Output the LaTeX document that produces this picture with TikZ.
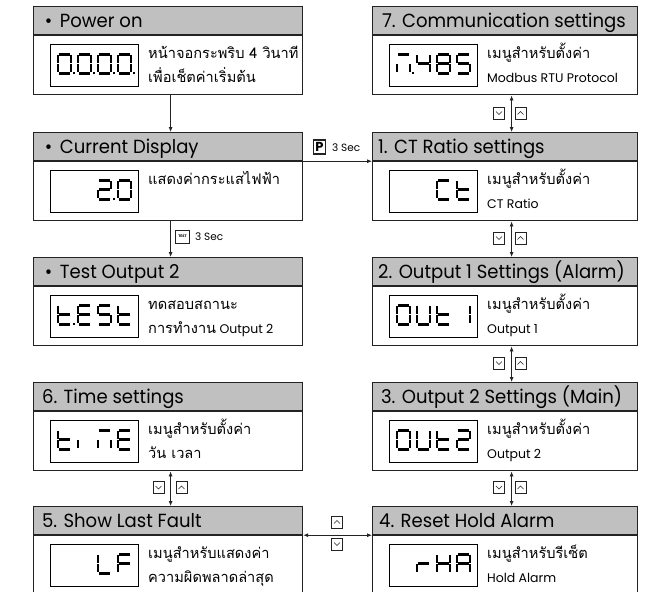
\documentclass[tikz,border=0pt]{standalone}
\usepackage{fontspec}
\setmainfont{Poppins}
\newfontfamily\thaifont[Script=Thai]{Loma}
\usetikzlibrary{arrows.meta,calc}

\definecolor{hdrgray}{RGB}{192,192,192}
\definecolor{edge}{RGB}{35,35,35}

% Thai text in the body of a panel
\newcommand\thaitxt[1]{{\thaifont\fontsize{14.6}{18}\selectfont #1}}

% one panel: grey title bar, white body and an LCD window
% #1 id, #2 x, #3 y (top left), #4 width style, #5 title
\newcommand\panel[5]{%
  \node[hdr,#4,anchor=north west] (h#1) at (#2,#3) {};
  \node[hdrtext,anchor=base west] (ht#1) at ($(h#1.south west)+(6,-7.5)$) {\scalebox{0.95}[1]{#5}};
  \node[bodybox,#4,anchor=north] (b#1) at (h#1.south) {};
  \node[lcdbox,anchor=north west] (d#1) at ($(b#1.north west)+(17,9)$) {};
}
% two text lines beside the LCD window
\newcommand\twolines[3]{%
  \node[bodytext,anchor=base west] (la#1) at ($(b#1.north west)+(115,23)$) {#2};
  \node[bodytext,anchor=base west] (lb#1) at ($(b#1.north west)+(115,47)$) {#3};
}
% seven-segment character: #1 LCD node, #2 cell index, #3 segments
\newcommand\lcddigit[3]{%
  \foreach \sg in {#3}{\draw[segline, shift={(#1.north west)}, shift={(8+20*#2,10)}, seg \sg];}%
}

\begin{document}
\begin{tikzpicture}[x=1pt,y=-1pt,
  hdr/.style={draw=edge, fill=hdrgray, line width=1.2pt, minimum height=28pt, inner sep=0},
  bodybox/.style={draw=edge, line width=1.2pt, minimum height=59pt, inner sep=0},
  lw/.style={minimum width=269pt},
  rw/.style={minimum width=265pt},
  hdrtext/.style={inner sep=0, font=\fontsize{19}{22}\selectfont},
  bodytext/.style={inner sep=0, font=\fontsize{12.5}{15}\selectfont},
  lcdbox/.style={draw=black, line width=0.9pt, minimum width=88pt, minimum height=42pt, inner sep=0},
  segline/.style={draw=black, line width=2.8pt, line cap=butt},
  seg a/.style={insert path={(1.2,0)--(11.8,0)}},
  seg b/.style={insert path={(13,1.0)--(13,8.8)}},
  seg c/.style={insert path={(13,10.2)--(13,18)}},
  seg d/.style={insert path={(1.2,19)--(11.8,19)}},
  seg e/.style={insert path={(0,10.2)--(0,18)}},
  seg f/.style={insert path={(0,1.0)--(0,8.8)}},
  seg g/.style={insert path={(1.2,9.5)--(11.8,9.5)}},
  seg p/.style={insert path={(16,17.4)--(16,19.4)}},
  arr/.style={draw=edge, line width=0.8pt, -{Latex[length=5pt,width=4pt]}},
  darr/.style={draw=edge, line width=0.8pt, {Latex[length=5pt,width=4pt]}-{Latex[length=5pt,width=4pt]}},
  keybox/.style={draw=edge, line width=0.6pt, minimum width=11pt, minimum height=12pt, inner sep=0},
  keydown/.style={keybox, path picture={\draw[line width=0.6pt]
    ([shift={(-3pt,1.5pt)}]path picture bounding box.center) --
    ([shift={(0pt,-1.5pt)}]path picture bounding box.center) --
    ([shift={(3pt,1.5pt)}]path picture bounding box.center);}},
  keyup/.style={keybox, path picture={\draw[line width=0.6pt]
    ([shift={(-3pt,-1.5pt)}]path picture bounding box.center) --
    ([shift={(0pt,1.5pt)}]path picture bounding box.center) --
    ([shift={(3pt,-1.5pt)}]path picture bounding box.center);}},
  smalltext/.style={inner sep=0, font=\fontsize{10.5}{12}\selectfont}
]
\useasboundingbox (0,0) rectangle (649,592);
\fill[white] (0,0) rectangle (649,592);
\clip (0,0) rectangle (649,592);

% ---------- left column ----------
\panel{L1}{33}{6}{lw}{\hspace*{6pt}•\hspace{8pt}Power on}
\twolines{L1}{\thaitxt{หน้าจอกระพริบ 4 วินาที}}{\thaitxt{เพื่อเช็ตค่าเริ่มต้น}}
\lcddigit{dL1}{0}{a,b,c,d,e,f,p}
\lcddigit{dL1}{1}{a,b,c,d,e,f,p}
\lcddigit{dL1}{2}{a,b,c,d,e,f,p}
\lcddigit{dL1}{3}{a,b,c,d,e,f,p}

\panel{L2}{33}{132}{lw}{\hspace*{6pt}•\hspace{8pt}Current Display}
\node[bodytext,anchor=base west] (laL2) at ($(bL2.north west)+(115,23)$) {\thaitxt{แสดงค่ากระแสไฟฟ้า}};
\lcddigit{dL2}{2}{a,b,d,e,g,p}
\lcddigit{dL2}{3}{a,b,c,d,e,f}

\panel{L3}{33}{257}{lw}{\hspace*{6pt}•\hspace{8pt}Test Output 2}
\twolines{L3}{\thaitxt{ทดสอบสถานะ}}{\thaitxt{การทำงาน} Output 2}
\lcddigit{dL3}{0}{d,e,f,g,p}
\lcddigit{dL3}{1}{a,d,e,f,g}
\lcddigit{dL3}{2}{a,c,d,f,g}
\lcddigit{dL3}{3}{d,e,f,g}

\panel{L4}{33}{382}{lw}{\hspace*{3pt}6. Time settings}
\twolines{L4}{\thaitxt{เมนูสำหรับตั้งค่า}}{\thaitxt{วัน เวลา}}
\lcddigit{dL4}{0}{d,e,f,g}
\lcddigit{dL4}{1}{e}
\lcddigit{dL4}{2}{a,c,e}
\lcddigit{dL4}{3}{a,d,e,f,g}

\panel{L5}{33}{506}{lw}{\hspace*{3pt}5. Show Last Fault}
\twolines{L5}{\thaitxt{เมนูสำหรับแสดงค่า}}{\thaitxt{ความผิดพลาดล่าสุด}}
\lcddigit{dL5}{2}{d,e,f}
\lcddigit{dL5}{3}{a,e,f,g}

% ---------- right column ----------
\panel{R7}{372}{6}{rw}{\hspace*{4pt}7. Communication settings}
\twolines{R7}{\thaitxt{เมนูสำหรับตั้งค่า}}{Modbus RTU Protocol}
\lcddigit{dR7}{0}{a,c,e,p}
\lcddigit{dR7}{1}{b,c,f,g}
\lcddigit{dR7}{2}{a,b,c,d,e,f,g}
\lcddigit{dR7}{3}{a,c,d,f,g}

\panel{R1}{372}{132}{rw}{1. CT Ratio settings}
\twolines{R1}{\thaitxt{เมนูสำหรับตั้งค่า}}{CT Ratio}
\lcddigit{dR1}{2}{a,d,e,f}
\lcddigit{dR1}{3}{d,e,f,g}

\panel{R2}{372}{257}{rw}{2. Output 1 Settings (Alarm)}
\twolines{R2}{\thaitxt{เมนูสำหรับตั้งค่า}}{Output 1}
\lcddigit{dR2}{0}{a,b,c,d,e,f}
\lcddigit{dR2}{1}{b,c,d,e,f}
\lcddigit{dR2}{2}{d,e,f,g}
\lcddigit{dR2}{3}{b,c}

\panel{R3}{372}{382}{rw}{\hspace*{3pt}3. Output 2 Settings (Main)}
\twolines{R3}{\thaitxt{เมนูสำหรับตั้งค่า}}{Output 2}
\lcddigit{dR3}{0}{a,b,c,d,e,f}
\lcddigit{dR3}{1}{b,c,d,e,f}
\lcddigit{dR3}{2}{d,e,f,g}
\lcddigit{dR3}{3}{a,b,d,e,g}

\panel{R4}{372}{506}{rw}{\hspace*{1pt}4. Reset Hold Alarm}
\twolines{R4}{\thaitxt{เมนูสำหรับรีเซ็ต}}{Hold Alarm}
\lcddigit{dR4}{1}{e,g}
\lcddigit{dR4}{2}{b,c,e,f,g}
\lcddigit{dR4}{3}{a,b,c,e,f,g}

% ---------- connectors ----------
\draw[arr] ([xshift=2.5pt]bL1.south) -- ([xshift=2.5pt]hL2.north);
\draw[arr] ([xshift=2.5pt]bL2.south) -- ([xshift=2.5pt]hL3.north);
\draw[arr] (hL2.south east) -- (hR1.south west);
\draw[darr] ([xshift=2.5pt]bL4.south) -- ([xshift=2.5pt]hL5.north);
\draw[darr] (hL5.south east) -- (hR4.south west);
\draw[darr] ([xshift=6.5pt]bR7.south) -- ([xshift=6.5pt]hR1.north);
\draw[darr] ([xshift=6.5pt]bR1.south) -- ([xshift=6.5pt]hR2.north);
\draw[darr] ([xshift=6.5pt]bR2.south) -- ([xshift=6.5pt]hR3.north);
\draw[darr] ([xshift=6.5pt]bR3.south) -- ([xshift=6.5pt]hR4.north);

% ---------- key symbols ----------
\node[keydown] (kd1) at (499,113) {};
\node[keyup]   (ku1) at (520.5,113) {};
\node[keydown] (kd2) at (499,238) {};
\node[keyup]   (ku2) at (520.5,238) {};
\node[keydown] (kd3) at (499,363) {};
\node[keyup]   (ku3) at (520.5,363) {};
\node[keydown] (kd4) at (499,487.5) {};
\node[keyup]   (ku4) at (520.5,487.5) {};
\node[keydown] (kd5) at (158.5,487.5) {};
\node[keyup]   (ku5) at (181.5,487.5) {};
\node[keyup]   (ku6) at (337,522) {};
\node[keydown] (kd6) at (337,544) {};

\node[draw=edge, line width=0.6pt, minimum width=14pt, minimum height=13pt, inner sep=0,
      font=\fontsize{3.6}{4}\selectfont\bfseries] (testkey) at (182.5,236.5) {TEST};
\node[smalltext, anchor=base west] (testtime) at (195,240.5) {3 Sec};
\node[draw=edge, line width=1.2pt, minimum width=12pt, minimum height=14pt, inner sep=0,
      font=\fontsize{13}{13}\selectfont\bfseries] (pkey) at (319.5,147) {P};
\node[smalltext, anchor=base west] (ptime) at (332,151) {3 Sec};
\end{tikzpicture}
\end{document}
